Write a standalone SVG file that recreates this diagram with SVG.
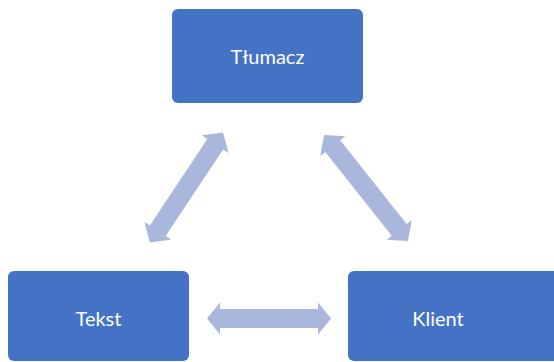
<svg xmlns="http://www.w3.org/2000/svg" width="554" height="362" viewBox="0 0 554 362">
<defs>
<style>
.box{fill:#4472C4;}
.lbl{fill:#FFFFFF;font-family:Lato,"Open Sans",sans-serif;font-size:20px;text-anchor:middle;}
.arr{fill:#A9B7DD;}
</style>
</defs>
<rect width="554" height="362" fill="#FFFFFF"/>
<g id="connectors">
<path class="arr" transform="translate(186.5,187.5) rotate(-56.4)" d="M-66,0 L-52,-16 L-52,-9.5 L52,-9.5 L52,-16 L66,0 L52,16 L52,9.5 L-52,9.5 L-52,16 Z"/>
<path class="arr" transform="translate(366,188) rotate(51.6)" d="M-67.5,0 L-53.5,-16 L-53.5,-9.5 L53.5,-9.5 L53.5,-16 L67.5,0 L53.5,16 L53.5,9.5 L-53.5,9.5 L-53.5,16 Z"/>
<path class="arr" transform="translate(269,318.5)" d="M-62,0 L-49,-16 L-49,-9.5 L49,-9.5 L49,-16 L62,0 L49,16 L49,9.5 L-49,9.5 L-49,16 Z"/>
</g>
<g id="tlumacz">
<rect class="box" x="172" y="9" width="191" height="94" rx="6"/>
<text class="lbl" x="267.5" y="64">Tłumacz</text>
</g>
<g id="tekst">
<rect class="box" x="8" y="271" width="181" height="90" rx="6"/>
<text class="lbl" x="98.5" y="326">Tekst</text>
</g>
<g id="klient">
<rect class="box" x="348" y="271" width="220" height="90" rx="6"/>
<text class="lbl" x="438" y="326">Klient</text>
</g>
</svg>
